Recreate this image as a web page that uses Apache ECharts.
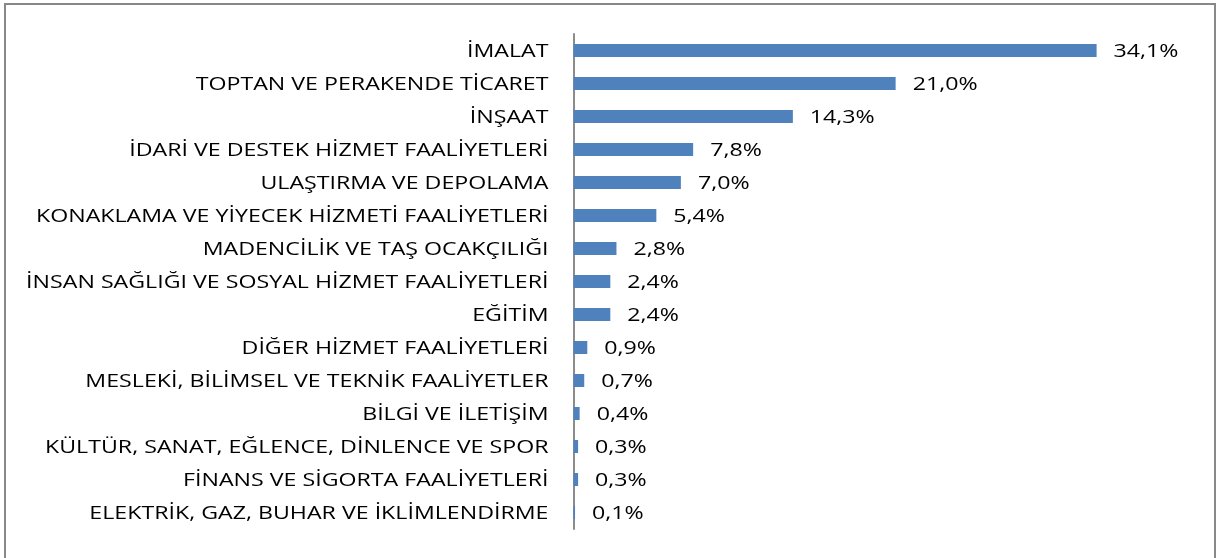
<!DOCTYPE html>
<html>
<head>
<meta charset="utf-8">
<script src="https://cdn.jsdelivr.net/npm/echarts@6/dist/echarts.min.js"></script>
<style>
  html, body { margin: 0; padding: 0; background: #fff; }
  #chart { width: 1216px; height: 558px; }
</style>
</head>
<body>
<div id="chart"></div>
<script>
// Sectors, top to bottom
const sectors = [
  'İMALAT',
  'TOPTAN VE PERAKENDE TİCARET',
  'İNŞAAT',
  'İDARİ VE DESTEK HİZMET FAALİYETLERİ',
  'ULAŞTIRMA VE DEPOLAMA',
  'KONAKLAMA VE YİYECEK HİZMETİ FAALİYETLERİ',
  'MADENCİLİK VE TAŞ OCAKÇILIĞI',
  'İNSAN SAĞLIĞI VE SOSYAL HİZMET FAALİYETLERİ',
  'EĞİTİM',
  'DİĞER HİZMET FAALİYETLERİ',
  'MESLEKİ, BİLİMSEL VE TEKNİK FAALİYETLER',
  'BİLGİ VE İLETİŞİM',
  'KÜLTÜR, SANAT, EĞLENCE, DİNLENCE VE SPOR',
  'FİNANS VE SİGORTA FAALİYETLERİ',
  'ELEKTRİK, GAZ, BUHAR VE İKLİMLENDİRME'
];
// Share of each sector (%)
const shares = [34.1, 21.0, 14.3, 7.8, 7.0, 5.4, 2.8, 2.4, 2.4, 0.9, 0.7, 0.4, 0.3, 0.3, 0.1];

const font = '"Open Sans", sans-serif';
const fontSize = 19;
const stretch = 1.22;   // wide lettering
const fmt = v => v.toFixed(1).replace('.', ',') + '%';

// Text label drawn next to a bar, placed through the chart's own axes
function labelItem(getText, getValue, offset, align) {
  return function (params, api) {
    const idx = params.dataIndex;
    const pt = api.coord([getValue(idx), idx]);
    return {
      type: 'text',
      x: pt[0] + offset,
      y: pt[1] + 1,
      scaleX: stretch,
      silent: true,
      style: {
        text: getText(idx),
        x: 0, y: 0,
        align: align,
        verticalAlign: 'middle',
        fill: '#000',
        fontFamily: font,
        fontSize: fontSize
      }
    };
  };
}

const points = shares.map((v, i) => [v, i]);

const chart = echarts.init(document.getElementById('chart'), null, { renderer: 'canvas' });
chart.setOption({
  animation: false,
  backgroundColor: '#ffffff',
  graphic: [{
    type: 'rect',
    shape: { x: 5, y: 4, width: 1210, height: 600 },
    style: { fill: 'none', stroke: '#888888', lineWidth: 2 },
    silent: true
  }],
  grid: { left: 573.5, top: 34, height: 495, width: 613.6 },
  xAxis: { type: 'value', min: 0, max: 40, show: false },
  yAxis: {
    type: 'category',
    data: sectors,
    inverse: true,
    axisLine: { show: true, lineStyle: { color: '#8c8c8c', width: 2 } },
    axisTick: { show: false },
    axisLabel: { show: false }
  },
  series: [
    {
      type: 'bar',
      data: shares,
      barWidth: 13,
      itemStyle: { color: '#4F81BD' }
    },
    {
      // category names
      type: 'custom',
      data: points,
      clip: false,
      encode: { x: 0, y: 1 },
      renderItem: labelItem(i => sectors[i], () => 0, -25, 'right')
    },
    {
      // value labels
      type: 'custom',
      data: points,
      clip: false,
      encode: { x: 0, y: 1 },
      renderItem: labelItem(i => fmt(shares[i]), i => shares[i], 17, 'left')
    }
  ]
});
</script>
</body>
</html>
